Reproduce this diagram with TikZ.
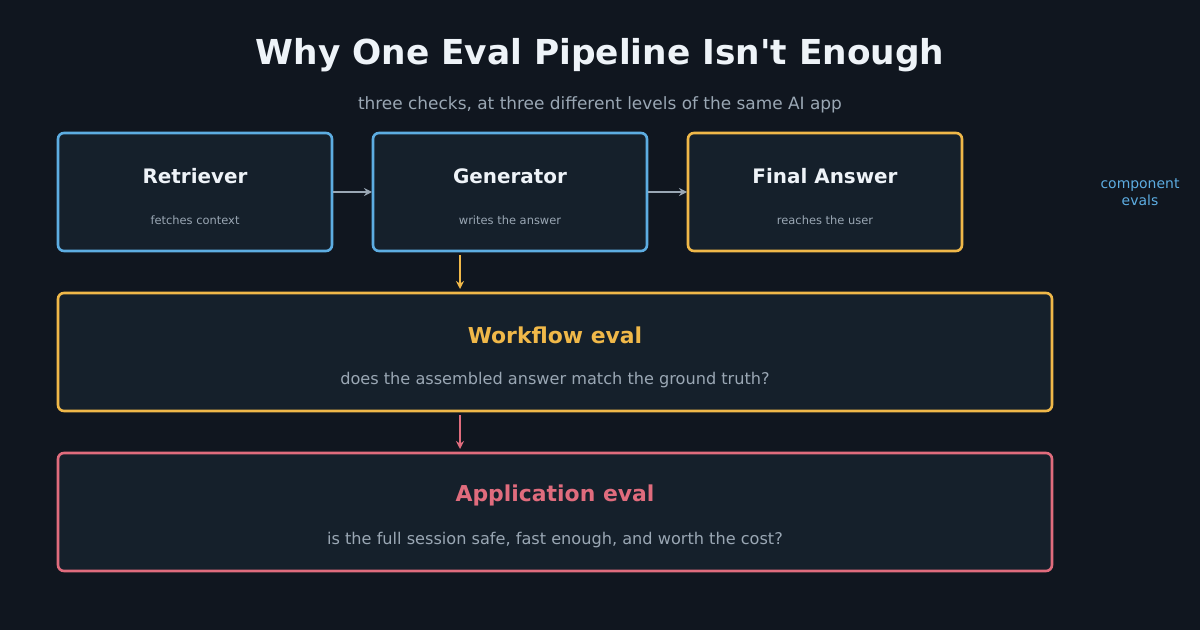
\documentclass[tikz,border=0pt]{standalone}
\usepackage{fontspec}
\setmainfont{DejaVu Sans}[Ligatures=TeXOff]
\usetikzlibrary{arrows.meta}
\definecolor{bg}{HTML}{10161F}
\definecolor{boxfill}{HTML}{15202B}
\definecolor{cblue}{HTML}{5DADE2}
\definecolor{cyel}{HTML}{F0B849}
\definecolor{cred}{HTML}{E06C7D}
\definecolor{cwhite}{HTML}{EEF3F8}
\definecolor{cgray}{HTML}{9AA7B4}
\tikzset{
 box/.style={draw=#1,line width=2.6bp,fill=boxfill,rounded corners=6bp},
 ttl/.style={font=\bfseries\fontsize{20}{24}\selectfont,text=cwhite},
 sub/.style={font=\fontsize{11.5}{14}\selectfont,text=cgray},
 arr/.style={draw=#1,line width=2.4bp,-{Stealth[length=8bp,width=8bp]}},
}
\begin{document}
\begin{tikzpicture}[x=1bp,y=-1bp]
\fill[bg] (0,0) rectangle (1200,630);
\useasboundingbox (0,0) rectangle (1200,630);
\node[font=\bfseries\fontsize{34.5}{40}\selectfont,text=cwhite] (title) at (600,55) {Why One Eval Pipeline Isn't Enough};
\node[font=\fontsize{17}{20}\selectfont,text=cgray] (subt) at (600,105) {three checks, at three different levels of the same AI app};
\draw[box=cblue] (58,133) rectangle (332,251) node[pos=0.5] (r) {};
\draw[box=cblue] (373,133) rectangle (647,251) node[pos=0.5] (g) {};
\draw[box=cyel] (688,133) rectangle (962,251) node[pos=0.5] (f) {};
\draw[box=cyel] (58,293) rectangle (1052,411) node[pos=0.5] (w) {};
\draw[box=cred] (58,453) rectangle (1052,571) node[pos=0.5] (a) {};
\node[ttl] (rt) at (195,176) {Retriever};
\node[sub] (rs) at (195,220) {fetches context};
\node[ttl] (gt) at (510,176) {Generator};
\node[sub] (gs) at (510,220) {writes the answer};
\node[ttl] (ft) at (825,176) {Final Answer};
\node[sub] (fs) at (825,220) {reaches the user};
\node[font=\bfseries\fontsize{22}{26}\selectfont,text=cyel] (wt) at (555,335) {Workflow eval};
\node[font=\fontsize{16.2}{19}\selectfont,text=cgray] (ws) at (555,380) {does the assembled answer match the ground truth?};
\node[font=\bfseries\fontsize{22}{26}\selectfont,text=cred] (at) at (555,495) {Application eval};
\node[font=\fontsize{16.2}{19}\selectfont,text=cgray] (as) at (555,540) {is the full session safe, fast enough, and worth the cost?};
\node[font=\fontsize{14}{17}\selectfont,text=cblue,align=center] (ce) at (1140,192) {component\\evals};
\coordinate (r1) at (333,192); \coordinate (g0) at (372,192);
\coordinate (g1) at (648,192); \coordinate (f0) at (687,192);
\coordinate (y0) at (460,255); \coordinate (y1) at (460,289);
\coordinate (z0) at (460,415); \coordinate (z1) at (460,449);
\draw[arr=cgray] (r1) -- (g0);
\draw[arr=cgray] (g1) -- (f0);
\draw[arr=cyel] (y0) -- (y1);
\draw[arr=cred] (z0) -- (z1);
\end{tikzpicture}
\end{document}
